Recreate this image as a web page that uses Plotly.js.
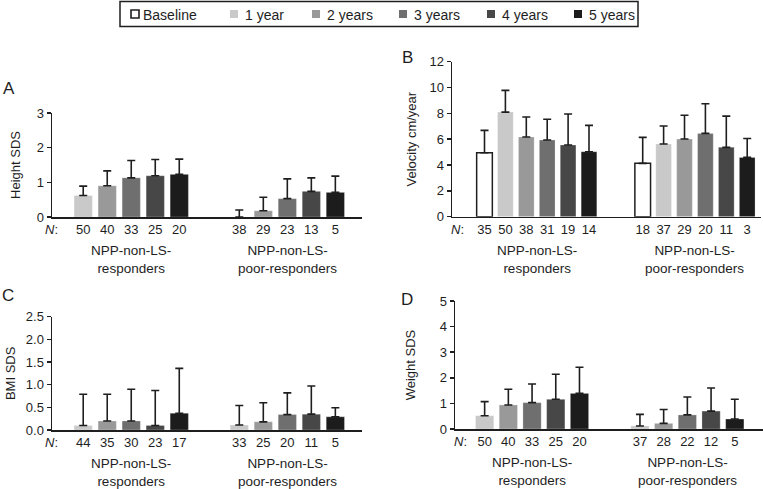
<!DOCTYPE html>
<html><head><meta charset="utf-8">
<script src="https://cdn.plot.ly/plotly-3.0.1.min.js"></script>
<style>html,body{margin:0;padding:0;background:#fff}#chart{width:763px;height:489px}</style>
</head><body><div id="chart"></div>
<script>
// ---------------- DATA ----------------
const seriesNames = ['Baseline', '1 year', '2 years', '3 years', '4 years', '5 years'];
const groupLines = [['NPP-non-LS-', 'responders'], ['NPP-non-LS-', 'poor-responders']];

// A: Height SDS (1-5 years)
const heightRespMean = [0.62, 0.90, 1.13, 1.19, 1.23];
const heightRespSD   = [0.27, 0.43, 0.50, 0.47, 0.44];
const heightRespN    = [50, 40, 33, 25, 20];
const heightPoorMean = [0.00, 0.18, 0.53, 0.74, 0.71];
const heightPoorSD   = [0.20, 0.39, 0.57, 0.39, 0.47];
const heightPoorN    = [38, 29, 23, 13, 5];

// B: Velocity cm/year (baseline + 1-5 years)
const velRespMean = [4.95, 8.10, 6.17, 5.94, 5.55, 5.03];
const velRespSD   = [1.73, 1.68, 1.55, 1.60, 2.40, 2.04];
const velRespN    = [35, 50, 38, 31, 19, 14];
const velPoorMean = [4.13, 5.63, 6.01, 6.45, 5.37, 4.59];
const velPoorSD   = [2.01, 1.39, 1.84, 2.30, 2.42, 1.47];
const velPoorN    = [18, 37, 29, 20, 11, 3];

// C: BMI SDS (1-5 years)
const bmiRespMean = [0.10, 0.20, 0.20, 0.10, 0.37];
const bmiRespSD   = [0.69, 0.59, 0.70, 0.77, 0.99];
const bmiRespN    = [44, 35, 30, 23, 17];
const bmiPoorMean = [0.11, 0.18, 0.34, 0.35, 0.29];
const bmiPoorSD   = [0.43, 0.42, 0.48, 0.62, 0.20];
const bmiPoorN    = [33, 25, 20, 11, 5];

// D: Weight SDS (1-5 years)
const wtRespMean = [0.52, 0.94, 1.03, 1.16, 1.39];
const wtRespSD   = [0.55, 0.61, 0.73, 0.98, 1.02];
const wtRespN    = [50, 40, 33, 25, 20];
const wtPoorMean = [0.12, 0.22, 0.55, 0.70, 0.39];
const wtPoorSD   = [0.45, 0.54, 0.70, 0.90, 0.77];
const wtPoorN    = [37, 28, 22, 12, 5];

// ---------------- STYLE / LAYOUT ----------------
const W = 763, H = 489;
const FONT = 'Liberation Sans, Arial, Helvetica, sans-serif';
const INK = '#1e1e1e';
const colors = ['#ffffff', '#c9c9c9', '#999999', '#6f6f6f', '#474747', '#1c1c1c'];
const px = p => p / W, py = p => 1 - p / H;

const panels = [
  {letter: 'A', title: 'Height SDS', series: [1,2,3,4,5],
   resp: [heightRespMean, heightRespSD, heightRespN], poor: [heightPoorMean, heightPoorSD, heightPoorN],
   yr: [0, 3], dtick: 1, fmt: '', g2: 6.5, xr: [-0.3, 12.61], bw: 0.76,
   box: [52, 362, 113, 217], letterPos: [9, 88], standoff: 13},
  {letter: 'B', title: 'Velocity cm/year', series: [0,1,2,3,4,5],
   resp: [velRespMean, velRespSD, velRespN], poor: [velPoorMean, velPoorSD, velPoorN],
   yr: [0, 12], dtick: 2, fmt: '', g2: 7.57, xr: [-1.555, 13.23], bw: 0.75,
   box: [452, 761, 61.7, 216.7], letterPos: [407.5, 57.5], standoff: 10},
  {letter: 'C', title: 'BMI SDS', series: [1,2,3,4,5],
   resp: [bmiRespMean, bmiRespSD, bmiRespN], poor: [bmiPoorMean, bmiPoorSD, bmiPoorN],
   yr: [0, 2.5], dtick: 0.5, fmt: '.1f', g2: 6.5, xr: [-0.3, 12.61], bw: 0.76,
   box: [52, 362, 316.7, 430], letterPos: [7.5, 295], standoff: 7},
  {letter: 'D', title: 'Weight SDS', series: [1,2,3,4,5],
   resp: [wtRespMean, wtRespSD, wtRespN], poor: [wtPoorMean, wtPoorSD, wtPoorN],
   yr: [0, 5], dtick: 1, fmt: '', g2: 6.55, xr: [-0.25, 12.74], bw: 0.77,
   box: [455, 763, 301, 429], letterPos: [407.5, 299], standoff: 21}
];

const traces = [];
const layout = {
  width: W, height: H, margin: {l: 0, r: 0, t: 0, b: 0},
  paper_bgcolor: '#fff', plot_bgcolor: 'rgba(0,0,0,0)',
  showlegend: false, barmode: 'overlay',
  font: {family: FONT, size: 13, color: INK},
  annotations: [], shapes: []
};

panels.forEach((p, k) => {
  const idx = k === 0 ? '' : String(k + 1);
  const xa = 'x' + idx, ya = 'y' + idx;
  const pos1 = s => s;             // responders slot
  const pos2 = s => s + p.g2;      // poor-responders slot
  const tickvals = [], ticktext = [];
  p.series.forEach((s, j) => {
    const mean = [p.resp[0][j], p.poor[0][j]];
    const sd = [p.resp[1][j], p.poor[1][j]];
    traces.push({
      type: 'bar', name: seriesNames[s], xaxis: xa, yaxis: ya,
      x: [pos1(s), pos2(s)], y: mean, width: p.bw,
      marker: {color: colors[s], line: {color: s === 0 ? INK : 'rgba(255,255,255,0.5)', width: s === 0 ? 1.5 : 0.5}},
      error_y: {type: 'data', symmetric: false, array: sd, arrayminus: [0, 0],
                color: INK, thickness: 1.6, width: 4},
      hoverinfo: 'skip'
    });
  });
  p.series.forEach((s, j) => { tickvals.push(pos1(s)); ticktext.push(String(p.resp[2][j])); });
  p.series.forEach((s, j) => { tickvals.push(pos2(s)); ticktext.push(String(p.poor[2][j])); });

  const [x0, x1, yTop, yBot] = p.box;
  layout['xaxis' + idx] = {
    domain: [px(x0), px(x1)], anchor: ya, range: p.xr,
    showline: true, linecolor: INK, linewidth: 1.5, showgrid: false, zeroline: false,
    ticks: '', tickvals: tickvals, ticktext: ticktext, tickfont: {size: 13, color: INK, family: FONT},
    fixedrange: true
  };
  layout['yaxis' + idx] = {
    domain: [py(yBot), py(yTop)], anchor: xa, range: p.yr, dtick: p.dtick, tick0: 0,
    tickformat: p.fmt, showline: true, linecolor: INK, linewidth: 1.5,
    ticks: 'outside', ticklen: 4, tickwidth: 1.5, tickcolor: INK,
    showgrid: false, zeroline: false, tickfont: {size: 13, color: INK, family: FONT},
    title: {text: p.title, font: {size: 13, color: INK, family: FONT}, standoff: p.standoff},
    fixedrange: true
  };
  // panel letter
  layout.annotations.push({xref: 'paper', yref: 'paper', x: px(p.letterPos[0]), y: py(p.letterPos[1]),
    text: p.letter, showarrow: false, xanchor: 'center', yanchor: 'middle',
    font: {size: 17, color: INK, family: FONT}});
  // "N:" label
  layout.annotations.push({xref: 'paper', yref: 'paper', x: px(k % 2 === 0 ? x0 - 0.5 : x0 + 5.5), y: py(yBot + 12.7),
    text: '<i>N</i>:', showarrow: false, xanchor: 'center', yanchor: 'middle',
    font: {size: 13, color: INK, family: FONT}});
  // group labels
  const mid = arr => (arr[0] + arr[arr.length - 1]) / 2;
  const c1 = mid(p.series.map(pos1)), c2 = mid(p.series.map(pos2));
  [c1, c2].forEach((c, g) => {
    layout.annotations.push({xref: xa, yref: 'paper', x: c, y: py(yBot + 42.5),
      text: groupLines[g].join('<br>'), showarrow: false, xanchor: 'center', yanchor: 'middle',
      align: 'center', font: {size: 13.5, color: INK, family: FONT}});
  });
});

// legend (drawn as shapes + text)
layout.shapes.push({type: 'rect', xref: 'paper', yref: 'paper',
  x0: px(120), x1: px(638), y0: py(1.5), y1: py(26.5), line: {color: INK, width: 1.5}, fillcolor: 'rgba(0,0,0,0)'});
const legTextX = [141, 243, 325, 412, 500, 587];
seriesNames.forEach((nm, s) => {
  const sqL = s === 0 ? 131 : legTextX[s] - 13;
  const sz = 8;
  layout.shapes.push({type: 'rect', xref: 'paper', yref: 'paper',
    x0: px(sqL), x1: px(sqL + sz), y0: py(14 + sz / 2), y1: py(14 - sz / 2),
    line: {color: INK, width: s === 0 ? 1.6 : 0}, fillcolor: colors[s]});
  layout.annotations.push({xref: 'paper', yref: 'paper', x: px(legTextX[s]), y: py(14.5),
    text: nm, showarrow: false, xanchor: 'left', yanchor: 'middle',
    font: {size: 14, color: INK, family: FONT}});
});

Plotly.newPlot('chart', traces, layout, {displayModeBar: false, staticPlot: true});
</script>
</body></html>
